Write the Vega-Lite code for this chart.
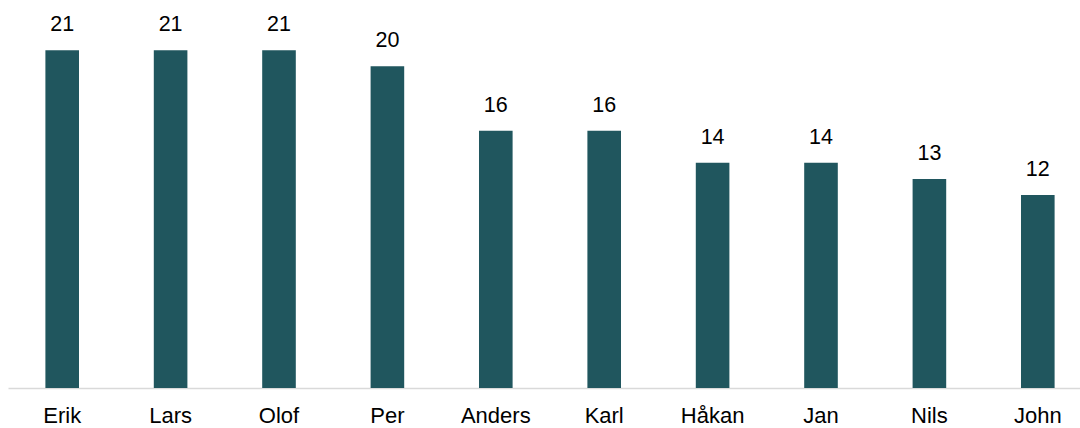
{
  "$schema": "https://vega.github.io/schema/vega-lite/v6.json",
  "width": 1072,
  "height": 386,
  "autosize": {"type": "none"},
  "padding": {"left": 8, "top": 2, "right": 0, "bottom": 40},
  "background": "white",
  "config": {"view": {"stroke": null}, "font": "Liberation Sans"},
  "data": {
    "values": [
      {"name": "Erik", "value": 21},
      {"name": "Lars", "value": 21},
      {"name": "Olof", "value": 21},
      {"name": "Per", "value": 20},
      {"name": "Anders", "value": 16},
      {"name": "Karl", "value": 16},
      {"name": "Håkan", "value": 14},
      {"name": "Jan", "value": 14},
      {"name": "Nils", "value": 13},
      {"name": "John", "value": 12}
    ]
  },
  "encoding": {
    "x": {
      "field": "name",
      "type": "nominal",
      "sort": null,
      "scale": {"range": [0, 1084], "paddingInner": 0.69, "paddingOuter": 0.345},
      "axis": {
        "title": null,
        "labelAngle": 0,
        "ticks": false,
        "grid": false,
        "domain": true,
        "domainColor": "#d9d9d9",
        "domainWidth": 1.5,
        "labelFont": "Liberation Sans",
        "labelFontSize": 22,
        "labelColor": "#000000",
        "labelPadding": 17
      }
    },
    "y": {
      "field": "value",
      "type": "quantitative",
      "scale": {"domain": [0, 24]},
      "axis": null
    }
  },
  "layer": [
    {"mark": {"type": "bar", "color": "#20565e"}},
    {
      "mark": {"type": "text", "baseline": "alphabetic", "dy": -19, "fontSize": 21.5, "font": "Liberation Sans", "color": "#000000"},
      "encoding": {"text": {"field": "value", "type": "quantitative"}}
    }
  ]
}
